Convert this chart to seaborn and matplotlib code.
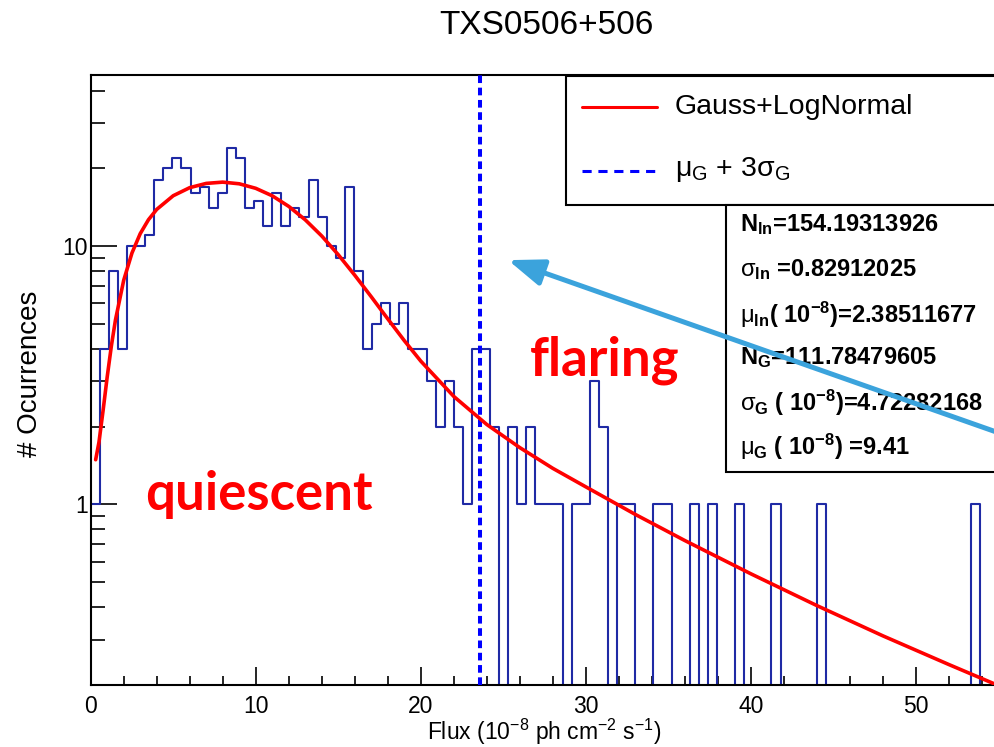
import numpy as np
import pandas as pd
import matplotlib
matplotlib.use("Agg")
import matplotlib.pyplot as plt
import seaborn as sns
from matplotlib.patches import Rectangle
from matplotlib.lines import Line2D
from matplotlib.ticker import MultipleLocator, LogLocator, NullFormatter, FuncFormatter

# ---------------- data ----------------
title = "TXS0506+506"
x_label = r"Flux (10$^{-8}$ ph cm$^{-2}$ s$^{-1}$)"
y_label = "# Ocurrences"

bin_lo, bin_hi, n_bins = 0.0, 55.0, 100
counts = [1, 4, 8, 4, 10, 10, 11, 18, 20, 22,
          20, 16, 17, 14, 16, 24, 22, 14, 15, 12,
          16, 12, 14, 13, 18, 13, 10, 9, 17, 8,
          4, 5, 6, 5, 6, 4, 4, 3, 2, 3,
          2, 1, 4, 4, 2, 0, 2, 1, 2, 1,
          1, 1, 0, 1, 1, 3, 2, 0, 1, 1,
          0, 0, 1, 1, 0, 0, 1, 0, 1, 0,
          0, 1, 0, 0, 0, 1, 0, 0, 0, 0,
          1, 0, 0, 0, 0, 0, 0, 0, 0, 0,
          0, 0, 0, 0, 0, 0, 0, 1, 0, 0]

# fitted curve (Gauss+LogNormal)
curve_x = [0.3, 0.5, 0.75, 1.0, 1.25, 1.5, 2.0, 2.5, 3.0, 3.5, 4, 5, 6, 7, 8, 9,
           10, 11, 12, 13, 14, 15, 16, 17, 18, 19, 20, 22, 24, 26, 28, 30, 33,
           36, 40, 44, 48, 52, 55]
curve_y = [1.49, 1.74, 2.31, 3.12, 4.10, 5.18, 7.38, 9.41, 11.18, 12.66, 13.88,
           15.68, 16.85, 17.50, 17.70, 17.44, 16.75, 15.67, 14.26, 12.65, 10.95,
           9.27, 7.72, 6.37, 5.23, 4.31, 3.59, 2.62, 2.04, 1.66, 1.38, 1.17,
           0.915, 0.725, 0.539, 0.406, 0.310, 0.240, 0.199]

mu_G = 9.41
sigma_G = 4.72282168

legend_labels = ["Gauss+LogNormal", r"$\mathrm{\mu}_{\mathrm{G}}$ + 3$\mathrm{\sigma}_{\mathrm{G}}$"]
stats_lines = [
    r"N$_{\mathbf{ln}}$=154.19313926",
    r"$\mathrm{\sigma}_{\mathbf{ln}}$ =0.82912025",
    r"$\mathrm{\mu}_{\mathbf{ln}}$( 10$^{\mathbf{-8}}$)=2.38511677",
    r"N$_{\mathbf{G}}$=111.78479605",
    r"$\mathrm{\sigma}_{\mathbf{G}}$ ( 10$^{\mathbf{-8}}$)=4.72282168",
    r"$\mathrm{\mu}_{\mathbf{G}}$ ( 10$^{\mathbf{-8}}$) =9.41",
]
region_labels = ["flaring", "quiescent"]

# ---------------- style ----------------
sns.set_theme(style="ticks")
plt.rcParams["font.family"] = ["Liberation Sans", "DejaVu Sans"]
plt.rcParams["mathtext.fontset"] = "custom"
plt.rcParams["mathtext.rm"] = "Liberation Sans"
plt.rcParams["mathtext.it"] = "Liberation Sans:italic"
plt.rcParams["mathtext.bf"] = "Liberation Sans:bold"
plt.rcParams["mathtext.sf"] = "Liberation Sans"
for k in ["text.color", "axes.labelcolor", "xtick.color", "ytick.color", "axes.edgecolor"]:
    plt.rcParams[k] = "black"

W, H = 995, 747
fig = plt.figure(figsize=(W / 100, H / 100), dpi=100)
fig.patch.set_facecolor("white")


def fx(p):
    return p / W


def fy(p):
    return 1 - p / H


ax_l, ax_r, ax_t, ax_b = 90.7, 998.4, 75, 685
ax = fig.add_axes([fx(ax_l), fy(ax_b), fx(ax_r - ax_l), (ax_b - ax_t) / H])

edges = np.linspace(bin_lo, bin_hi, n_bins + 1)
centers = (edges[:-1] + edges[1:]) / 2
df = pd.DataFrame({"flux": centers, "n": counts})
sns.histplot(data=df, x="flux", weights="n", bins=n_bins, binrange=(bin_lo, bin_hi),
             element="step", fill=False, color="#1f2aa5", linewidth=1.5, ax=ax)

sns.lineplot(x=curve_x, y=curve_y, color="#ff0000", linewidth=2.6, ax=ax,
             sort=False, zorder=4)

thr = mu_G + 3 * sigma_G
ax.axvline(thr, color="#0000ff", linewidth=2.9, dashes=(1.9, 1.15), zorder=3)

ax.set_yscale("log")
ax.set_xlim(bin_lo, bin_hi)
ax.set_ylim(0.2, 46)

ax.xaxis.set_major_locator(MultipleLocator(10))
ax.xaxis.set_minor_locator(MultipleLocator(2))
ax.yaxis.set_major_locator(LogLocator(base=10, numticks=20))
ax.yaxis.set_minor_locator(LogLocator(base=10, subs=np.arange(2, 10), numticks=50))
ax.yaxis.set_major_formatter(FuncFormatter(lambda v, p: f"{v:g}"))
ax.yaxis.set_minor_formatter(NullFormatter())

ax.tick_params(axis="x", which="major", direction="in", length=13, width=1.2,
               labelsize=16.5, pad=7, color="black")
ax.tick_params(axis="x", which="minor", direction="in", length=6.5, width=1.2,
               color="black")
ax.tick_params(axis="y", which="major", direction="in", length=19, width=1.2,
               labelsize=16.5, pad=2, color="black")
ax.tick_params(axis="y", which="minor", direction="in", length=10, width=1.2,
               color="black")
for s in ax.spines.values():
    s.set_color("black")
    s.set_linewidth(1.5)

ax.set_xlabel(x_label, fontsize=16.5)
ax.set_ylabel(y_label, fontsize=20)
ax.xaxis.set_label_coords(0.5, -0.052)
ax.yaxis.set_label_coords(-0.052, 0.51)

fig.text(fx(546), fy(26), title, ha="center", va="center", fontsize=24)

# legend box
ax.add_patch(Rectangle((fx(566), fy(205)), fx(1010 - 566), (205 - 76) / H,
                       transform=fig.transFigure, facecolor="white",
                       edgecolor="black", linewidth=1.5, clip_on=False, zorder=6))
ax.add_line(Line2D([fx(582), fx(657)], [fy(107), fy(107)], transform=fig.transFigure,
                   color="#ff0000", linewidth=2.2, clip_on=False, zorder=7))
ax.add_line(Line2D([fx(582), fx(657)], [fy(171), fy(171)], transform=fig.transFigure,
                   color="#0000ff", linewidth=2.2, dashes=(3, 2.2), clip_on=False, zorder=7))
ax.text(fx(675), fy(107), legend_labels[0], transform=fig.transFigure, fontsize=20.5,
        ha="left", va="center", zorder=7)
ax.text(fx(675), fy(170), legend_labels[1], transform=fig.transFigure, fontsize=20.5,
        ha="left", va="center", zorder=7)

# stats box
ax.add_patch(Rectangle((fx(726), fy(472)), fx(1010 - 726), (472 - 205) / H,
                       transform=fig.transFigure, facecolor="white",
                       edgecolor="black", linewidth=1.5, clip_on=False, zorder=6))
for i, line in enumerate(stats_lines):
    yc = [225, 270, 315, 358, 403, 447][i]
    ax.text(fx(740), fy(yc), line, transform=fig.transFigure, fontsize=17,
            fontweight="bold", ha="left", va="center", zorder=7)

# region labels
ax.text(26.6, 3.16, region_labels[0], color="#ff0000", fontsize=38,
        family=["Lato", "DejaVu Sans"], fontweight="bold", ha="left", va="baseline", zorder=7)
ax.text(3.29, 0.948, region_labels[1], color="#ff0000", fontsize=38,
        family=["Lato", "DejaVu Sans"], fontweight="bold", ha="left", va="baseline", zorder=7)

# arrow
ax.annotate("", xy=(25.29, 8.83), xytext=(56.0, 1.80),
            arrowprops=dict(arrowstyle="-|>,head_length=0.8,head_width=0.3",
                            color="#3ba3dc", lw=3.6, mutation_scale=27,
                            shrinkA=0, shrinkB=0),
            annotation_clip=False, zorder=9)

fig.savefig("out.png", dpi=100)
